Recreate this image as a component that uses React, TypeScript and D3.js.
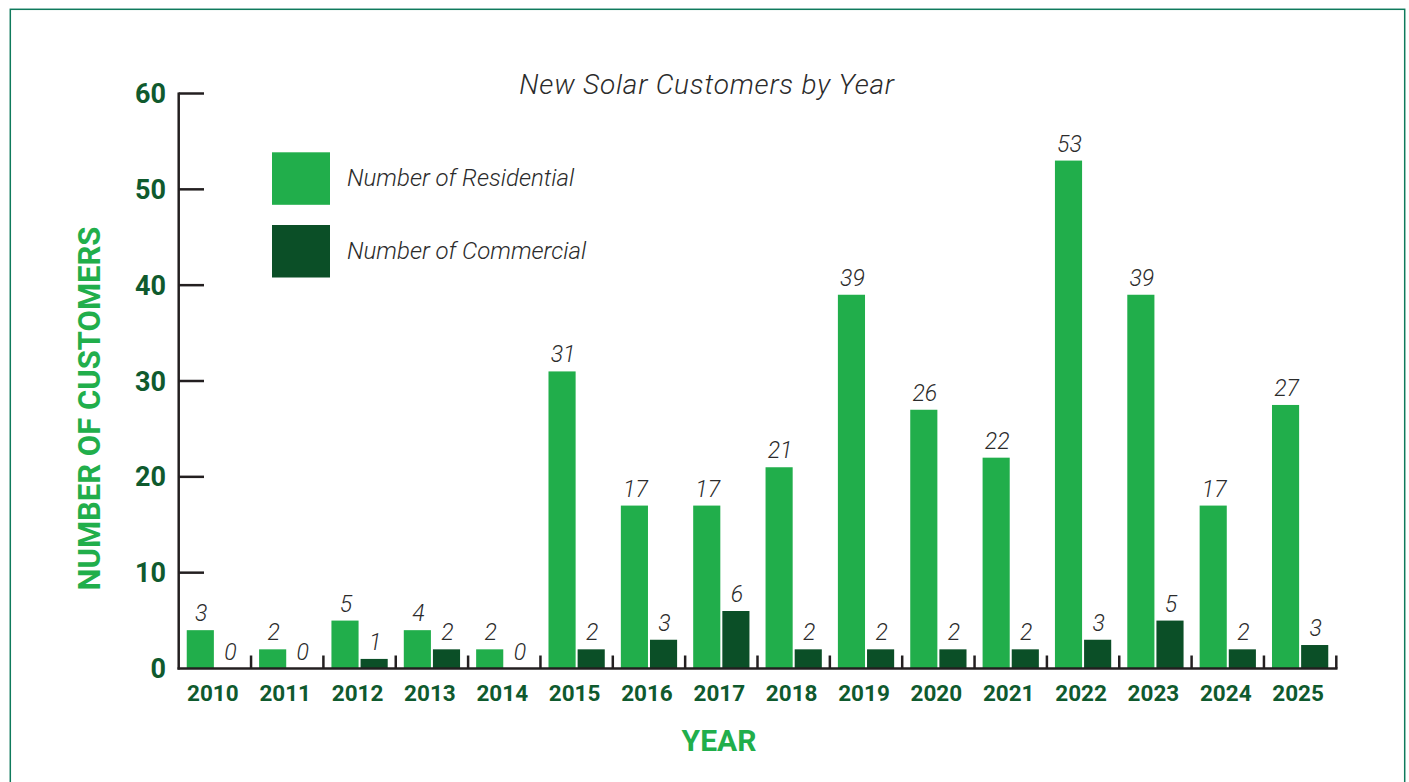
import React from "react";
import * as d3 from "d3";

const years = ["2010","2011","2012","2013","2014","2015","2016","2017","2018","2019","2020","2021","2022","2023","2024","2025"];
const residential = [4, 2, 5, 4, 2, 31, 17, 17, 21, 39, 27, 22, 53, 39, 17, 27.5];
const commercial = [0, 0, 1, 2, 0, 2, 3, 6, 2, 2, 2, 2, 3, 5, 2, 2.45];
const residentialLabels = ["3","2","5","4","2","31","17","17","21","39","26","22","53","39","17","27"];
const commercialLabels = ["0","0","1","2","0","2","3","6","2","2","2","2","3","5","2","3"];
const yTicks = [0, 10, 20, 30, 40, 50, 60];
const seriesKeys = ["res", "com"];
const seriesNames = ["Number of Residential", "Number of Commercial"];

const W = 1409;
const H = 782;
const BRIGHT = "#21ae4b";
const DARK = "#0b4f27";
const DARK_TEXT = "#0f5a2e";
const AXIS = "#231f20";
const LABEL = "#2b2b2b";
const FONT = "Roboto, 'Noto Sans', sans-serif";

export default function App() {
  const x = d3.scaleBand<string>().domain(years).range([178.7, 1336.3]).paddingInner(0).paddingOuter(0);
  const xs = d3.scaleBand<string>().domain(seriesKeys).range([0, x.bandwidth()]).paddingInner(0.069).paddingOuter(0.276);
  const y = d3.scaleLinear().domain([0, 60]).range([668.5, 93.5]);
  const colors = [BRIGHT, DARK];
  const data = [residential, commercial];
  const labels = [residentialLabels, commercialLabels];

  return (
    <svg width={W} height={H} style={{ position: "absolute", left: 0, top: 0, background: "#fff" }} fontFamily={FONT}>
      <rect x={10.3} y={9.3} width={1394.4} height={H + 20} fill="none" stroke="#0f7a5c" strokeWidth={1.5} />

      <text x={707} y={94} textAnchor="middle" fontSize={28} fontStyle="italic" fontWeight={300} letterSpacing={0.8} fill={LABEL}>
        New Solar Customers by Year
      </text>

      {/* legend */}
      {seriesNames.map((name, i) => (
        <g key={name}>
          <rect x={272} y={152.3 + i * 72.7} width={58} height={52.5} fill={colors[i]} />
          <text x={347} y={186 + i * 72.7} fontSize={24} fontStyle="italic" fontWeight={300} fill={LABEL}>
            {name}
          </text>
        </g>
      ))}

      {/* bars */}
      {data.map((vals, si) =>
        vals.map((v, i) => (
          <rect
            key={`${si}-${i}`}
            x={(x(years[i]) as number) + (xs(seriesKeys[si]) as number)}
            y={y(v)}
            width={xs.bandwidth()}
            height={y(0) - y(v)}
            fill={colors[si]}
          />
        ))
      )}

      {/* value labels */}
      {data.map((vals, si) =>
        vals.map((v, i) => (
          <text
            key={`l${si}-${i}`}
            x={(x(years[i]) as number) + (xs(seriesKeys[si]) as number) + xs.bandwidth() / 2 + 1}
            y={y(v) - 9}
            textAnchor="middle"
            fontSize={23}
            fontStyle="italic"
            fontWeight={300}
            fill={LABEL}
          >
            {labels[si][i]}
          </text>
        ))
      )}

      {/* y axis */}
      <line x1={178.7} x2={178.7} y1={y(60) - 1} y2={y(0) + 1} stroke={AXIS} strokeWidth={2.5} />
      {yTicks.map((t) => (
        <g key={t}>
          {t > 0 && <line x1={178.7} x2={204} y1={y(t)} y2={y(t)} stroke={AXIS} strokeWidth={2.5} />}
          <text x={166} y={y(t) + 9.5} textAnchor="end" fontSize={27} fontWeight={700} fill={DARK_TEXT}>
            {t}
          </text>
        </g>
      ))}

      {/* x axis */}
      <line x1={177.5} x2={1337.5} y1={y(0)} y2={y(0)} stroke={AXIS} strokeWidth={2.5} />
      {years.map((yr, i) => (
        <g key={yr}>
          <line
            x1={(x(yr) as number) + x.bandwidth()}
            x2={(x(yr) as number) + x.bandwidth()}
            y1={y(0)}
            y2={y(0) - 13}
            stroke={AXIS}
            strokeWidth={2.5}
          />
          <text
            x={(x(yr) as number) + x.bandwidth() / 2 - 2}
            y={700.5}
            textAnchor="middle"
            fontSize={22.5}
            fontWeight={700}
            fill={DARK_TEXT}
          >
            {yr}
          </text>
        </g>
      ))}

      <text x={719} y={750.5} textAnchor="middle" fontSize={30} fontWeight={700} fill={BRIGHT}>
        YEAR
      </text>
      <text transform="translate(99.5,408.5) rotate(-90)" textAnchor="middle" fontSize={31} fontWeight={700} fill={BRIGHT}>
        NUMBER OF CUSTOMERS
      </text>
    </svg>
  );
}
